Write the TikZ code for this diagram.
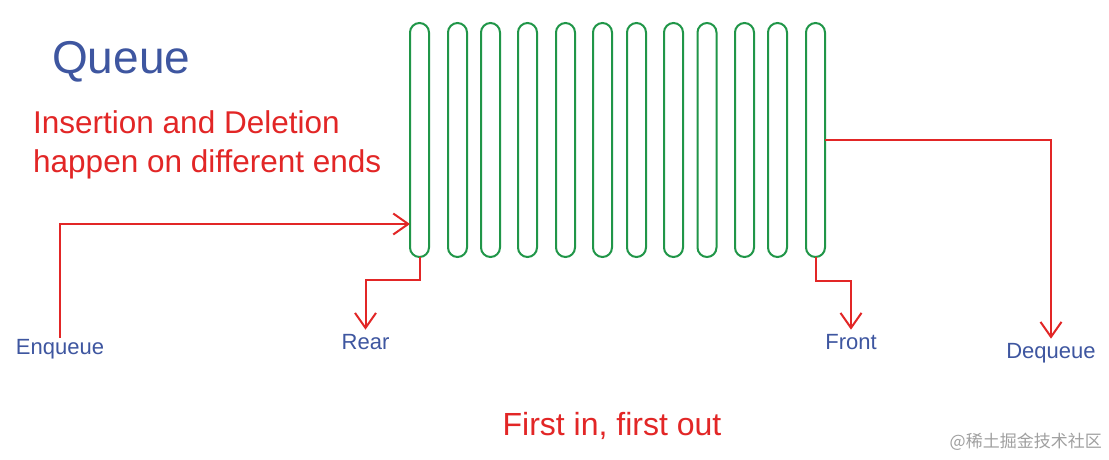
\documentclass[tikz,border=0pt]{standalone}
\usepackage{fontspec}
\setmainfont{Liberation Sans}
\newfontfamily\cjkfont{Noto Sans CJK SC}
\usetikzlibrary{arrows.meta}
\definecolor{qblue}{RGB}{62,86,160}
\definecolor{qred}{RGB}{226,38,38}
\definecolor{qgreen}{RGB}{32,150,72}
\definecolor{qgray}{RGB}{160,160,160}
\tikzset{
  capsule/.style={draw=qgreen, line width=2pt, rectangle, rounded corners=9.5pt,
    minimum width=19pt, minimum height=234pt, inner sep=0pt, outer sep=0pt},
  arr/.style={draw=qred, line width=2pt, -{Straight Barb[length=15pt,width=21pt]}},
  wire/.style={draw=qred, line width=2pt},
  lbl/.style={text=qblue, font=\fontsize{22}{26}\selectfont, inner sep=1pt},
  redtxt/.style={text=qred, font=\fontsize{31.5}{39}\selectfont, inner sep=0pt, anchor=base west},
}
\begin{document}
\begin{tikzpicture}[x=1pt,y=-1pt]
\useasboundingbox (0,0) rectangle (1109,459);
\fill[white] (0,0) rectangle (1109,459);
% capsules
\foreach \i/\x in {1/419.5,2/457.5,3/490.5,4/527.5,5/565.5,6/602.5,7/636.5,8/673.5,9/707,10/744.5,11/777.5,12/815.5}
  \node[capsule] (c\i) at (\x,140) {};
% texts
\node[text=qblue, font=\fontsize{46}{52}\selectfont, inner sep=0pt, anchor=base west] (title) at (52,73) {Queue};
\node[redtxt] (ins1) at (33,133) {Insertion and Deletion};
\node[redtxt] (ins2) at (33,172) {happen on different ends};
\node[text=qred, font=\fontsize{32}{38}\selectfont, inner sep=0pt, anchor=base] (fifo) at (612,435) {First in, first out};
\node[text=qgray, font=\cjkfont\fontsize{17}{20}\selectfont, inner sep=0pt, anchor=east] (wm) at (1102,442) {@稀土掘金技术社区};
% labels
\node[lbl, anchor=base] (enq) at (60,354) {Enqueue};
\node[lbl, anchor=base, inner sep=4pt] (rear) at (365.5,349) {Rear};
\node[lbl, anchor=base, inner sep=4pt] (front) at (851,349) {Front};
\node[lbl, anchor=base, inner sep=4pt] (deq) at (1051,358) {Dequeue};
% connectors
\coordinate (enqin) at (410,224);
\draw[arr] (enq.north) |- (enqin);
\draw[arr] (c1.south) -- ++(0,23) -| (rear.north);
\draw[arr] (c12.south) -- ++(0,24) -| (front.north);
\draw[arr] (c12.east) -| (deq.north);
\end{tikzpicture}
\end{document}
